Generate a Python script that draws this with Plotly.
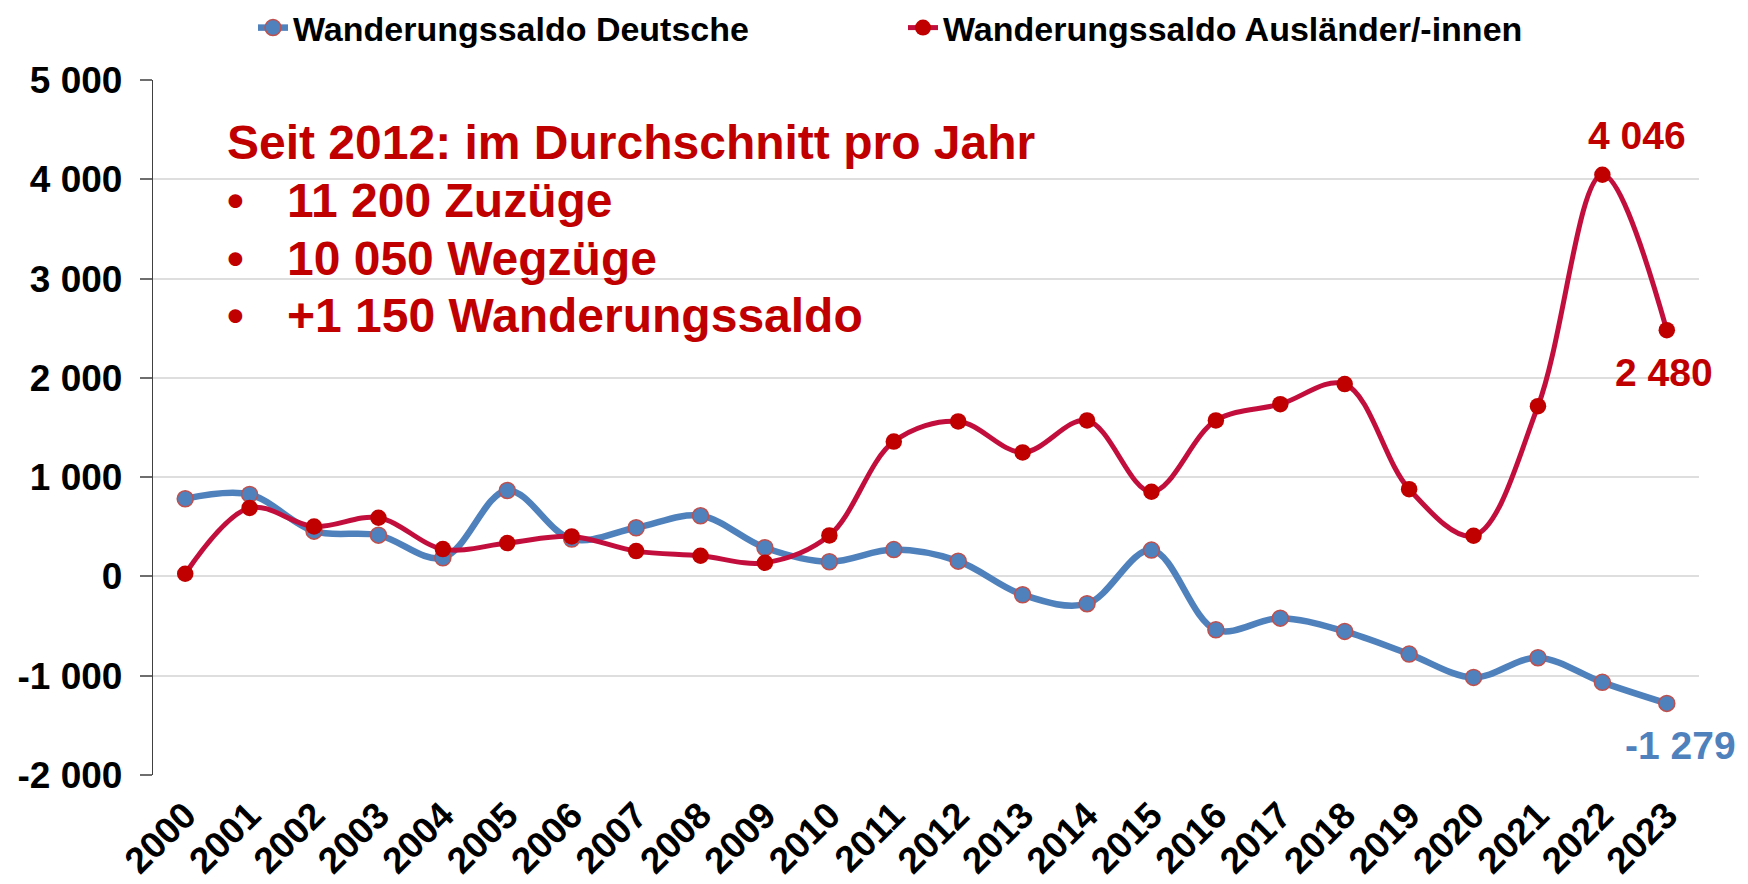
import plotly.graph_objects as go

# ---------------- data ----------------
years = ["2000", "2001", "2002", "2003", "2004", "2005", "2006", "2007", "2008", "2009",
         "2010", "2011", "2012", "2013", "2014", "2015", "2016", "2017", "2018", "2019",
         "2020", "2021", "2022", "2023"]
saldo_deutsche = [782, 826, 456, 416, 188, 866, 376, 490, 611, 289,
                  148, 270, 154, -185, -275, 265, -537, -420, -554, -782,
                  -1017, -819, -1067, -1279]
saldo_auslaender = [27, 690, 503, 591, 275, 336, 403, 255, 208, 138,
                    413, 1358, 1561, 1249, 1571, 853, 1571, 1735, 1937, 879,
                    410, 1715, 4046, 2480]
series_names = ["Wanderungssaldo Deutsche", "Wanderungssaldo Ausländer/-innen"]
y_tick_vals = [-2000, -1000, 0, 1000, 2000, 3000, 4000, 5000]
y_tick_text = ["-2 000", "-1 000", "0", "1 000", "2 000", "3 000", "4 000", "5 000"]
info_title = "Seit 2012: im Durchschnitt pro Jahr"
info_items = ["11 200 Zuzüge", "10 050 Wegzüge", "+1 150 Wanderungssaldo"]

# ---------------- style ----------------
FONT = "Liberation Sans, Arial, sans-serif"
BLUE = "#4F81BD"
BLUE_EDGE = "#C0504D"
RED_LINE = "#C20E3C"
RED_MARK = "#C00000"
GRID = "#DEDEDE"

# the html page has an 8px body margin: size the figure so it fills the 1748x884 window
OFF = 8
W, H = 1748 - OFF, 884 - OFF
L, R, T, B = 153 - OFF, 49, 80 - OFF, 109
PW, PH = W - L - R, H - T - B


def px_x(page_px):
    return (page_px - OFF - L) / PW


def px_y(page_py):
    return (H - B - (page_py - OFF)) / PH


def fmt(v):
    return f"{v:,}".replace(",", " ")


fig = go.Figure()
fig.add_trace(go.Scatter(
    x=years, y=saldo_deutsche, name=series_names[0], mode="lines+markers",
    line=dict(color=BLUE, width=6.5, shape="spline", smoothing=1.0),
    marker=dict(size=16, color=BLUE, line=dict(color=BLUE_EDGE, width=1.5)),
))
fig.add_trace(go.Scatter(
    x=years, y=saldo_auslaender, name=series_names[1], mode="lines+markers",
    line=dict(color=RED_LINE, width=5, shape="spline", smoothing=1.0),
    marker=dict(size=16.5, color=RED_MARK, line=dict(width=0)),
))

annotations = []
# value labels (category axis -> numeric category index)
last = len(years) - 1
peak = saldo_auslaender.index(max(saldo_auslaender))
label_font = dict(family=FONT, size=39, weight="bold")
annotations.append(dict(x=peak, y=saldo_auslaender[peak], xref="x", yref="y",
                        text=fmt(saldo_auslaender[peak]),
                        showarrow=False, xanchor="center", yanchor="bottom", xshift=35, yshift=16,
                        font=dict(label_font, color=RED_MARK)))
annotations.append(dict(x=last, y=saldo_auslaender[last], xref="x", yref="y",
                        text=fmt(saldo_auslaender[last]),
                        showarrow=False, xanchor="center", yanchor="middle", xshift=-3, yshift=-42,
                        font=dict(label_font, color=RED_MARK)))
annotations.append(dict(x=last, y=saldo_deutsche[last], xref="x", yref="y",
                        text=fmt(saldo_deutsche[last]),
                        showarrow=False, xanchor="center", yanchor="middle", xshift=14, yshift=-42,
                        font=dict(label_font, color=BLUE)))

# info text block
info_font = dict(family=FONT, size=48, color=RED_MARK, weight="bold")
y0 = 143
annotations.append(dict(xref="paper", yref="paper", x=px_x(225), y=px_y(y0), text=info_title,
                        showarrow=False, xanchor="left", yanchor="middle", font=info_font))
for i, item in enumerate(info_items):
    yy = px_y(y0 + 57.6 * (i + 1))
    annotations.append(dict(xref="paper", yref="paper", x=px_x(235), y=yy, text="•",
                            showarrow=False, xanchor="center", yanchor="middle", font=info_font))
    annotations.append(dict(xref="paper", yref="paper", x=px_x(285), y=yy, text=item,
                            showarrow=False, xanchor="left", yanchor="middle", font=info_font))

x_tick_font = dict(family=FONT, size=37, color="black", weight="bold")
y_tick_font = dict(family=FONT, size=37, color="black", weight="bold")
zero_pos = (0 - y_tick_vals[0]) / (y_tick_vals[-1] - y_tick_vals[0])

fig.update_layout(
    width=W, height=H,
    margin=dict(l=L, r=R, t=T, b=B, autoexpand=False),
    paper_bgcolor="white", plot_bgcolor="white",
    font=dict(family=FONT, color="black"),
    showlegend=True,
    legend=dict(orientation="h", x=px_x(253), xanchor="left", y=px_y(28), yanchor="middle",
                font=dict(family=FONT, size=34, color="black", weight="bold"),
                entrywidth=605, entrywidthmode="pixels", bgcolor="rgba(0,0,0,0)",
                itemclick=False),
    xaxis=dict(type="category", categoryorder="array", categoryarray=years,
               range=[-0.5, len(years) - 0.5], showgrid=False, zeroline=False, showline=False,
               ticks="", tickangle=-45, tickfont=x_tick_font, ticklabelstandoff=10,
               automargin=False, fixedrange=True),
    xaxis2=dict(overlaying="x", anchor="free", position=zero_pos,
                range=[-0.5, len(years) - 0.5], tick0=-0.5, dtick=1, showgrid=False, zeroline=False,
                showline=True, linecolor="black", linewidth=2, ticks="outside", ticklen=11,
                tickwidth=1.5, tickcolor="#555555", showticklabels=False, automargin=False),
    xaxis3=dict(overlaying="x", anchor="free", position=zero_pos,
                range=[-0.5, len(years) - 0.5], tick0=-0.5, dtick=1, showgrid=False, zeroline=False,
                showline=False, ticks="inside", ticklen=11,
                tickwidth=1.5, tickcolor="#555555", showticklabels=False, automargin=False),
    yaxis=dict(range=[y_tick_vals[0], y_tick_vals[-1]], tickvals=y_tick_vals, ticktext=y_tick_text,
               showgrid=True, gridcolor=GRID, gridwidth=1.5, zeroline=False,
               showline=True, linecolor="#404040", linewidth=1.3,
               ticks="outside", ticklen=12, tickwidth=2, tickcolor="#6E6E6E",
               tickfont=y_tick_font, ticklabelstandoff=10, automargin=False, fixedrange=True),
    yaxis2=dict(overlaying="y", anchor="x", side="left", range=[y_tick_vals[0], y_tick_vals[-1]],
                tickvals=y_tick_vals, showgrid=False, zeroline=False, showline=False,
                ticks="inside", ticklen=12, tickwidth=2, tickcolor="#6E6E6E",
                showticklabels=False, automargin=False),
    shapes=[dict(type="rect", xref="paper", yref="y", x0=px_x(207), x1=px_x(1130),
                 y0=2400, y1=4840, fillcolor="white", line=dict(width=0), layer="between")],
    annotations=annotations,
)

fig.write_html("out.html")
